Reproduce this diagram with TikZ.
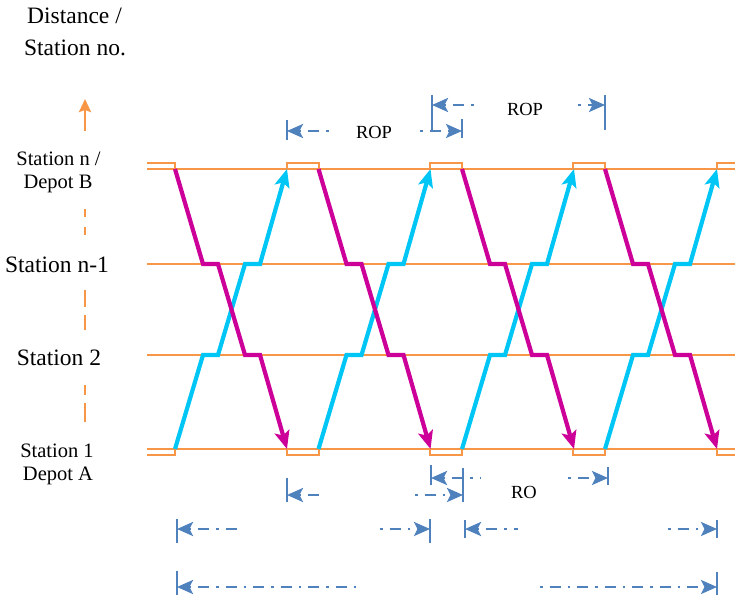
\documentclass[tikz,border=0pt]{standalone}
\usepackage{fontspec}
\setmainfont{Liberation Serif}
\usetikzlibrary{arrows.meta}
\definecolor{trainA}{RGB}{204,0,153}
\definecolor{trainB}{RGB}{0,198,245}
\definecolor{trackc}{RGB}{247,150,70}
\definecolor{dimblue}{RGB}{79,129,189}
\tikzset{dimtip/.tip={Stealth[length=16pt,width=14pt,inset=3.5pt]}}
\begin{document}
\begin{tikzpicture}[x=1pt,y=-1pt,
  track/.style={draw=trackc, line width=1.5pt},
  axisdash/.style={draw=trackc, line width=2.6pt},
  downtrain/.style={draw=trainA, line width=4.2pt, -{Stealth[length=18pt,width=15pt,inset=4pt]}},
  uptrain/.style={draw=trainB, line width=4.2pt, -{Stealth[length=18pt,width=15pt,inset=4pt]}},
  dimline/.style={draw=dimblue, line width=2.6pt, dash pattern=on 2.5pt off 7pt on 11pt off 7pt},
  dimbar/.style={draw=dimblue, line width=2pt},
  lbl/.style={inner sep=0pt, anchor=base, font=\fontsize{23.5}{28}\selectfont},
  lblsm/.style={inner sep=0pt, anchor=base, font=\fontsize{20.5}{24}\selectfont},
  dimlbl/.style={inner sep=0pt, anchor=base, font=\fontsize{18.5}{22}\selectfont}
]
\useasboundingbox (0,0) rectangle (735,599);

% station lines
\foreach \y in {169,264,355,449} \draw[track] (147,\y) -- (735,\y);
% dwell boxes at depot B
\draw[track] (147,163) -- (175,163) -- (175,169);
\foreach \a/\b in {287/319,430/462,573/605}
  \draw[track] (\a,169) -- (\a,163) -- (\b,163) -- (\b,169);
\draw[track] (717,169) -- (717,163) -- (736,163);
% dwell boxes at depot A
\draw[track] (147,455) -- (175,455) -- (175,449);
\foreach \a/\b in {287/319,430/462,573/605}
  \draw[track] (\a,449) -- (\a,455) -- (\b,455) -- (\b,449);
\draw[track] (717,449) -- (717,455) -- (736,455);

% trains
\foreach \s in {175,318.5,462,605} {
  \draw[uptrain] (\s,449) -- ++(28,-94) -- ++(15,0) -- ++(27,-91) -- ++(15,0) -- ++(27,-95);
}
\foreach \s in {175,318.5,462,605} {
  \draw[downtrain] (\s,169) -- ++(28,95) -- ++(15,0) -- ++(27,91) -- ++(15,0) -- ++(27,94);
}

% vertical axis
\draw[trackc, line width=2.6pt, -{Stealth[length=13pt,width=12pt,inset=2pt]}] (85,131) -- (85,99);
\foreach \a/\b in {209/217,227/235,290/307,315/330,385/395,403/422}
  \draw[axisdash] (85,\a) -- (85,\b);

% labels
\node[lbl] (dist) at (74.5,24) {Distance /};
\node[lbl] (stno) at (75,56) {Station no.};
\node[lblsm] (sn) at (58.5,165) {Station n /};
\node[lblsm] (db) at (58,188) {Depot B};
\node[lbl] (sn1) at (57,272) {Station n-1};
\node[lbl] (s2) at (59,365) {Station 2};
\node[lblsm] (s1) at (57,457) {Station 1};
\node[lblsm] (da) at (58,480) {Depot A};
\node[dimlbl] (rop1) at (374,138) {ROP};
\node[dimlbl] (rop2) at (525,115) {ROP};
\node[dimlbl] (ro) at (524,498) {RO};

% dimension lines: bars
\foreach \x/\a/\b in {287/120/140, 462/119/138, 432/95/130, 605/95/130,
                      287/478/502, 463/468/502, 431/465/485, 608/467/485,
                      177/519/543, 430/519/543, 465/520/538, 717/520/538,
                      177/571/595, 717/572/595}
  \draw[dimbar] (\x,\a) -- (\x,\b);

% dimension lines: arrow pieces  (tip x / other x / y)
\foreach \t/\o/\y in {287/330/131, 432/480/105, 287/320/495, 431/480/478,
                      177/240/529, 465/518/529, 177/358/587}
  \draw[dimline, {dimtip}-] (\t,\y) -- (\o,\y);
\foreach \o/\t/\y in {420/462/131, 578/605/105, 415/463/495, 568/608/478,
                      380/430/529, 668/717/529, 540/717/587}
  \draw[dimline, -{dimtip}] (\o,\y) -- (\t,\y);
\end{tikzpicture}
\end{document}
